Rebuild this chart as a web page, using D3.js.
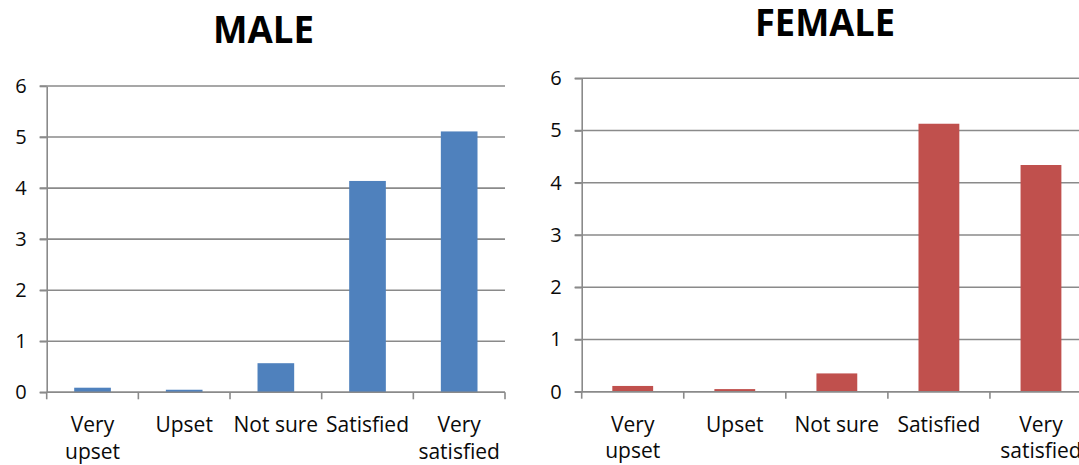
<!DOCTYPE html>
<html>
<head>
<meta charset="utf-8">
<script src="https://cdn.jsdelivr.net/npm/d3@7"></script>
<style>
  html, body { margin: 0; padding: 0; background: #fff; }
  svg { display: block; font-family: "Open Sans", "DejaVu Sans", sans-serif; }
</style>
</head>
<body>
<svg id="chart" width="1079" height="465"></svg>
<script>
// Satisfaction ratings by gender
const categories = ["Very upset", "Upset", "Not sure", "Satisfied", "Very satisfied"];
const maleValues = [0.09, 0.05, 0.57, 4.14, 5.11];
const femaleValues = [0.11, 0.05, 0.35, 5.13, 4.34];
const yTicks = [0, 1, 2, 3, 4, 5, 6];

const svg = d3.select("#chart");

const gridColor = "#8a8a8a";
const textColor = "#0a0a0a";

function wrapLabel(textSel, maxWidth, lineGap) {
  textSel.each(function () {
    const text = d3.select(this);
    const words = text.text().split(/\s+/);
    const x = text.attr("x");
    text.text(null);
    let line = [];
    let tspan = text.append("tspan").attr("x", x).attr("dy", 0);
    words.forEach(w => {
      line.push(w);
      tspan.text(line.join(" "));
      if (tspan.node().getComputedTextLength() > maxWidth && line.length > 1) {
        line.pop();
        tspan.text(line.join(" "));
        line = [w];
        tspan = text.append("tspan").attr("x", x).attr("dy", lineGap).text(w);
      }
    });
  });
}

function drawPanel(opts) {
  const g = svg.append("g");

  const x = d3.scaleBand()
    .domain(categories)
    .range([opts.left, opts.right])
    .paddingInner(0.6)
    .paddingOuter(0.3);

  const y = d3.scaleLinear()
    .domain([0, 6])
    .range([opts.bottom, opts.top]);

  // horizontal gridlines (extend slightly left as tick marks)
  g.append("g").selectAll("line")
    .data(yTicks)
    .join("line")
    .attr("x1", opts.left - 7)
    .attr("x2", opts.right)
    .attr("y1", d => y(d))
    .attr("y2", d => y(d))
    .attr("stroke", gridColor)
    .attr("stroke-width", 1.6);

  // y axis labels
  const yAxis = d3.axisLeft(y)
    .tickValues(yTicks)
    .tickFormat(d3.format("d"))
    .tickSize(7)
    .tickSizeOuter(0)
    .tickPadding(13);
  const ya = g.append("g").attr("transform", `translate(${opts.left},0)`).call(yAxis);
  ya.select(".domain").attr("stroke", gridColor).attr("stroke-width", 1.6);
  ya.selectAll(".tick line").attr("stroke", gridColor).attr("stroke-width", 1.6);
  ya.selectAll(".tick text")
    .attr("fill", textColor)
    .style("font-size", "20px")
    .style("font-family", "'Open Sans', sans-serif");

  // bars
  g.append("g").selectAll("rect")
    .data(opts.values)
    .join("rect")
    .attr("x", (d, i) => x(categories[i]))
    .attr("width", x.bandwidth())
    .attr("y", d => y(d))
    .attr("height", d => y(0) - y(d))
    .attr("fill", opts.color);

  // x axis line and category boundary ticks
  const step = x.step();
  const xStart = opts.left;
  g.append("line")
    .attr("x1", opts.left).attr("x2", opts.right)
    .attr("y1", y(0)).attr("y2", y(0))
    .attr("stroke", gridColor).attr("stroke-width", 1.6);
  g.append("g").selectAll("line")
    .data(d3.range(categories.length + 1))
    .join("line")
    .attr("x1", i => xStart + i * step)
    .attr("x2", i => xStart + i * step)
    .attr("y1", y(0))
    .attr("y2", y(0) + 7)
    .attr("stroke", gridColor)
    .attr("stroke-width", 1.6);

  // category labels
  g.append("g").selectAll("text")
    .data(categories)
    .join("text")
    .attr("x", d => x(d) + x.bandwidth() / 2)
    .attr("y", opts.bottom + 40)
    .attr("text-anchor", "middle")
    .attr("fill", textColor)
    .style("font-size", "21px")
    .text(d => d)
    .call(wrapLabel, step - 3, 26.6);

  // title
  svg.append("text")
    .attr("x", opts.titleX)
    .attr("y", opts.titleY)
    .attr("text-anchor", "middle")
    .attr("fill", "#000")
    .style("font-size", "37px")
    .style("font-weight", 700)
    .attr("textLength", opts.titleWidth)
    .attr("lengthAdjust", "spacingAndGlyphs")
    .text(opts.title);
}

drawPanel({
  title: "MALE", titleX: 263.5, titleY: 43.3, titleWidth: 101,
  values: maleValues, color: "#4f81bd",
  left: 46.7, right: 505, top: 86, bottom: 392.3
});

drawPanel({
  title: "FEMALE", titleX: 825, titleY: 35.5, titleWidth: 140,
  values: femaleValues, color: "#c0504d",
  left: 581.7, right: 1092, top: 78.3, bottom: 391.7
});
</script>
</body>
</html>
